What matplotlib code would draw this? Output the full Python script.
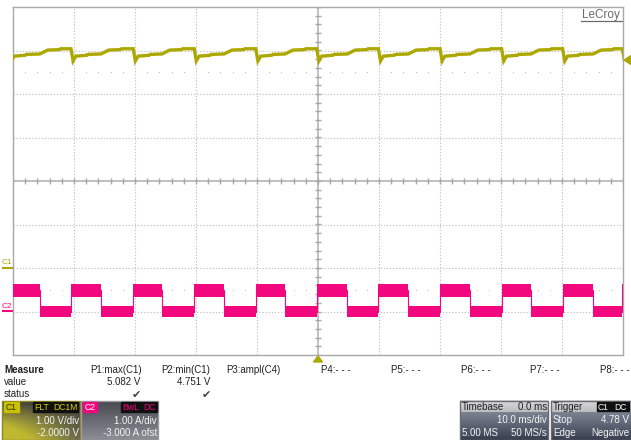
import numpy as np
import matplotlib.pyplot as plt
from matplotlib.colors import to_rgb
from matplotlib.patches import Rectangle, Polygon

plt.rcParams['font.family'] = ['Liberation Sans', 'DejaVu Sans']

W, H = 631, 440

# scope settings, as shown on screen
c1_volts_div, c1_offset = 1.00, -2.0
c2_amps_div, c2_offset = 1.00, -3.0
ms_div = 10.0
trig_level = 4.78

# C2 (current) edges in ms
c2_rise_ms = [-50.6, -40.5, -30.3, -20.3, -10.2, -0.2, 9.9, 20.0, 30.1, 40.1, 49.9]
c2_fall_ms = [-45.6, -35.6, -25.6, -15.4, -5.4, 4.8, 14.8, 24.9, 34.9, 45.1]
c2_high_band = (0.34, 0.64)   # A, noise band when load is on
c2_low_band = (-0.13, 0.12)   # A, noise band when load is off

# C1 (voltage) shape after a current rise / fall: (ms after edge, volts)
c1_after_rise = [(0.0, 5.04), (0.35, 4.76), (0.8, 4.87), (2.6, 4.89), (2.8, 4.91)]
c1_after_fall = [(0.0, 4.92), (1.3, 5.01), (3.2, 5.02), (3.4, 5.04)]

meas_names = ['P1:max(C1)', 'P2:min(C1)', 'P3:ampl(C4)', 'P4:- - -',
              'P5:- - -', 'P6:- - -', 'P7:- - -', 'P8:- - -']
meas_values = ['5.082 V', '4.751 V', '', '', '', '', '', '']
meas_status = [True, True, False, False, False, False, False, False]
meas_x = [90, 161, 226, 321, 391, 461, 530, 600]
meas_right = [140, 210]

C1_COL = '#ADA800'
C2_COL = '#F2077F'


def c1_trace():
    t, v = [], []
    for i, r in enumerate(c2_rise_ms):
        for dt, val in c1_after_rise:
            t.append(r + dt)
            v.append(val)
        if i < len(c2_fall_ms):
            f = c2_fall_ms[i]
            for dt, val in c1_after_fall:
                t.append(f + dt)
                v.append(val)
    return np.array(t), np.array(v)


def c2_steps():
    edges = sorted([(r, 1) for r in c2_rise_ms] + [(f, 0) for f in c2_fall_ms])
    t = [-60.0] + [e[0] for e in edges] + [60.0]
    s = [1] + [e[1] for e in edges] + [edges[-1][1]]
    return np.array(t), np.array(s)


fig = plt.figure(figsize=(W / 100, H / 100), dpi=100)
fig.patch.set_facecolor('white')

# pixel overlay for the panels and labels
px = fig.add_axes([0, 0, 1, 1], zorder=0)
px.axis('off')

# --- grid axes
gl, gr, gt, gb = 13, 623, 7, 355
div_px = (gb - gt) / 8
ax = fig.add_axes([gl / W, 1 - gb / H, (gr - gl) / W, (gb - gt) / H], zorder=2)
ax.set_xlim(-5, 5)
ax.set_ylim(-4, 4)
ax.set_facecolor('none')
ax.set_xticks([])
ax.set_yticks([])
for sp in ax.spines.values():
    sp.set_color('#A8A8A8')
    sp.set_linewidth(1.0)

grid_kw = dict(color='#C4C4C4', lw=0.8, ls=(0, (1.2, 1.6)), zorder=1)
for k in range(-4, 5):
    if k != 0:
        ax.axvline(k, **grid_kw)
for k in range(-3, 4):
    if k != 0:
        ax.axhline(k, **grid_kw)
ax.axvline(0, color='#B4B4B4', lw=1.2, zorder=1)
ax.axhline(0, color='#B4B4B4', lw=1.2, zorder=1)
sub = np.arange(-5, 5.01, 0.2)
ax.vlines(sub, -0.06, 0.06, color='#A8A8A8', lw=1.0, zorder=1)
subv = np.arange(-4, 4.01, 0.2)
ax.hlines(subv, -0.045, 0.045, color='#A8A8A8', lw=1.0, zorder=1)
dots = [x for x in sub if abs(x - round(x)) > 0.05]
for yd in (2.5, -2.5):
    ax.plot(dots, [yd] * len(dots), ls='none', marker='s', ms=0.7, mew=0,
            color='#BDBDBD', zorder=1)

# C2 trace (current band)
t2, s2 = c2_steps()
x2 = t2 / ms_div
lo = np.where(s2 == 1, c2_high_band[0], c2_low_band[0])
hi = np.where(s2 == 1, c2_high_band[1], c2_low_band[1])
ax.fill_between(x2, (lo + c2_offset) / c2_amps_div, (hi + c2_offset) / c2_amps_div,
                step='post', color=C2_COL, lw=0, zorder=3)
mid = np.where(s2 == 1, 0.49, 0.0)
ax.step(x2, (mid + c2_offset) / c2_amps_div, where='post', color=C2_COL, lw=0.8, zorder=3)

# C1 trace (voltage)
t1, v1 = c1_trace()
ax.plot(t1 / ms_div, (v1 + c1_offset) / c1_volts_div, color=C1_COL, lw=2.4,
        solid_joinstyle='miter', zorder=4)

# LeCroy logo
px.text(601, 15, 'LeCroy', ha='center', va='center', fontsize=8.5, color='#6a6a6a', zorder=5)
px.plot([581, 622], [21.5, 21.5], color='#6a6a6a', lw=0.9, zorder=5)

# markers
ty = gt + (4 - (trig_level + c1_offset) / c1_volts_div) * div_px
px.add_patch(Polygon([[624, ty], [631, ty - 4.5], [631, ty + 4.5]], color=C1_COL))
px.add_patch(Polygon([[318, 356], [313.5, 362], [322.5, 362]], color=C1_COL))
c1_y = gt + (4 - c1_offset / c1_volts_div) * div_px
c2_y = gt + (4 - c2_offset / c2_amps_div) * div_px
px.text(2, c1_y - 5.5, 'C1', fontsize=6, color=C1_COL, va='center', ha='left')
px.plot([3, 12], [c1_y, c1_y], color=C1_COL, lw=1.5)
px.text(2, c2_y - 5.5, 'C2', fontsize=6, color=C2_COL, va='center', ha='left')
px.plot([3, 12], [c2_y, c2_y], color=C2_COL, lw=1.5)

# --- measurement table
fs = 7
px.text(4, 370, 'Measure', fontsize=fs, fontweight='bold', va='center', color='#202020')
px.text(4, 382, 'value', fontsize=fs, va='center', color='#202020')
px.text(4, 394, 'status', fontsize=fs, va='center', color='#202020')
for i, name in enumerate(meas_names):
    px.text(meas_x[i], 370, name, fontsize=fs, va='center', color='#202020')
for i, val in enumerate(meas_values):
    if val:
        px.text(meas_right[i], 382, val, fontsize=fs, va='center', ha='right', color='#202020')
    if meas_status[i]:
        px.text(meas_right[i] - 4, 395, '\u2714', fontsize=8, va='center', ha='center',
                color='#404040', family='DejaVu Sans')


def gradient_box(x0, y0, x1, y1, c_top, c_bot, c_corner=None):
    ny, nx = 20, 40
    yy, xx = np.mgrid[0:1:ny * 1j, 0:1:nx * 1j]
    a = np.array(to_rgb(c_top))
    b = np.array(to_rgb(c_bot))
    img = a + (b - a) * yy[..., None]
    if c_corner is not None:
        c = np.array(to_rgb(c_corner))
        w = np.clip(yy * (1 - xx) * 1.6, 0, 1)[..., None]
        img = img * (1 - w) + c * w
    px.imshow(img, extent=(x0, x1, y1, y0), aspect='auto', zorder=1, interpolation='bilinear')


def tag(x0, x1, y0, y1, txt, bg, fg):
    px.add_patch(Rectangle((x0, y0), x1 - x0, y1 - y0, color=bg, zorder=3))
    px.text((x0 + x1) / 2, (y0 + y1) / 2 + 0.3, txt, fontsize=6.2, color=fg,
            ha='center', va='center', zorder=4)


# C1 box
gradient_box(2, 401, 80, 440, '#3e3e38', '#6a6a50', '#c0b830')
px.add_patch(Rectangle((2, 401), 78, 39, fill=False, ec='#8a8620', lw=1, zorder=2))
tag(4, 19, 402.5, 412, 'C1', '#C8C000', '#303000')
tag(33, 51, 402.5, 412, 'FLT', '#101010', '#D8D000')
tag(52, 78, 402.5, 412, 'DC1M', '#101010', '#D8D000')
px.text(79, 421, '1.00 V/div', fontsize=fs, ha='right', va='center', color='#F4F4F4', zorder=4)
px.text(79, 433, '-2.0000 V', fontsize=fs, ha='right', va='center', color='#F4F4F4', zorder=4)

# C2 box
gradient_box(81, 401, 158, 440, '#4a4a52', '#8c8c94')
px.add_patch(Rectangle((81, 401), 77, 39, fill=False, ec='#9a9aa2', lw=1, zorder=2))
tag(83, 97, 402.5, 412, 'C2', C2_COL, '#FFFFFF')
tag(121, 141, 402.5, 412, 'BwL', '#101010', C2_COL)
tag(142, 157, 402.5, 412, 'DC', '#101010', C2_COL)
px.text(157, 421, '1.00 A/div', fontsize=fs, ha='right', va='center', color='#F4F4F4', zorder=4)
px.text(157, 433, '-3.000 A ofst', fontsize=fs, ha='right', va='center', color='#F4F4F4', zorder=4)

# Timebase box
gradient_box(460, 401, 548, 412.5, '#dadada', '#bcbcbc')
gradient_box(460, 412.5, 548, 440, '#7a8292', '#3a4050')
px.add_patch(Rectangle((460, 401), 88, 39, fill=False, ec='#6a6a70', lw=1, zorder=2))
px.text(462, 406.5, 'Timebase', fontsize=fs, va='center', color='#202020', zorder=4)
px.text(547, 406.5, '0.0 ms', fontsize=fs, va='center', ha='right', color='#202020', zorder=4)
px.text(547, 420, '10.0 ms/div', fontsize=fs, va='center', ha='right', color='#F4F4F4', zorder=4)
px.text(462, 433, '5.00 MS', fontsize=fs, va='center', color='#F4F4F4', zorder=4)
px.text(547, 433, '50 MS/s', fontsize=fs, va='center', ha='right', color='#F4F4F4', zorder=4)

# Trigger box
gradient_box(551, 401, 631, 412.5, '#dadada', '#bcbcbc')
gradient_box(551, 412.5, 631, 440, '#7a8292', '#3a4050')
px.add_patch(Rectangle((551, 401), 79.5, 39, fill=False, ec='#6a6a70', lw=1, zorder=2))
px.text(553, 406.5, 'Trigger', fontsize=fs, va='center', color='#202020', zorder=4)
tag(597, 610, 402.5, 411.5, 'C1', '#101010', '#FFFFFF')
tag(611, 629, 402.5, 411.5, 'DC', '#101010', '#FFFFFF')
px.text(553, 420, 'Stop', fontsize=fs, va='center', color='#F4F4F4', zorder=4)
px.text(629, 420, '4.78 V', fontsize=fs, va='center', ha='right', color='#F4F4F4', zorder=4)
px.text(553, 433, 'Edge', fontsize=fs, va='center', color='#F4F4F4', zorder=4)
px.text(629, 433, 'Negative', fontsize=fs, va='center', ha='right', color='#F4F4F4', zorder=4)

px.set_xlim(0, W)
px.set_ylim(H, 0)

fig.savefig('out.png', dpi=100)
